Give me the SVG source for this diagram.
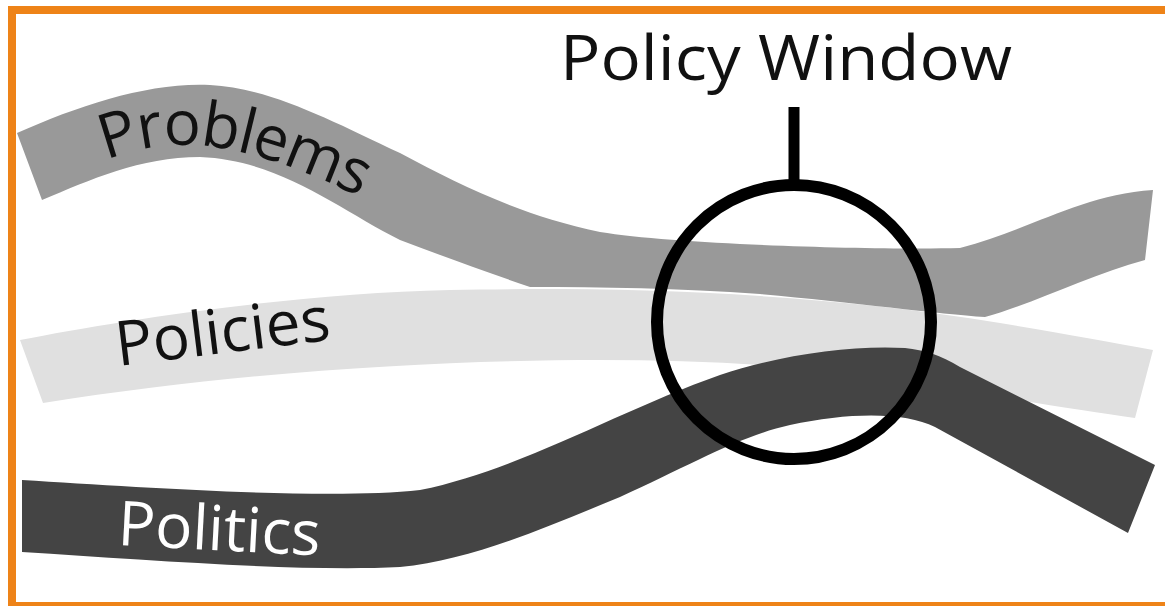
<svg xmlns="http://www.w3.org/2000/svg" width="1165" height="606" viewBox="0 0 1165 606">
  <style>
    .lbl { font-family: "Open Sans", "Liberation Sans", sans-serif; font-size: 62px; }
    .dark { fill: #111111; }
    .light { fill: #ffffff; }
    .ring { fill: none; stroke: #000000; stroke-width: 12; }
  </style>
  <defs>
    <path id="probBase" d="M 106 160 C 166 138, 226 130, 376 205"/>
  </defs>
  <rect x="0" y="0" width="1165" height="606" fill="#ffffff"/>
  <rect x="12" y="10" width="1170" height="596" fill="none" stroke="#ee8318" stroke-width="8"/>

  <g id="policies">
    <path fill="#e0e0e0" d="M 20 340 C 120 320, 300 293, 450 290 C 600 287, 800 290, 1000 323 C 1060 333, 1110 342, 1153 350 L 1135 418 C 1080 410, 1000 398, 900 380 C 800 365, 700 360, 600 360 C 450 360, 250 370, 43 403 Z"/>
    <text class="lbl dark" x="118" y="366" transform="rotate(-7 118 366)">Policies</text>
  </g>

  <g id="problems">
    <path fill="#999999" d="M 17 133 C 80 105, 150 82, 210 85 C 270 88, 330 120, 400 153 C 460 185, 520 215, 600 232 C 680 245, 880 250, 960 248 C 1030 230, 1080 195, 1153 190 L 1145 260 C 1090 275, 1030 305, 985 317 C 940 314, 850 302, 760 294 C 680 288, 600 287, 530 287 C 480 270, 440 255, 400 240 C 340 210, 280 160, 200 157 C 140 157, 90 180, 42 200 Z"/>
    <text class="lbl dark" font-size="60" letter-spacing="-1.5"><textPath href="#probBase">Problems</textPath></text>
  </g>

  <g id="politics">
    <path fill="#444444" d="M 22 480 C 150 488, 330 500, 420 490 C 520 470, 620 410, 720 375 C 780 355, 850 345, 905 348 C 925 350, 940 355, 960 367 L 1155 465 L 1128 533 L 935 427 C 905 412, 850 412, 790 425 C 740 436, 690 465, 620 497 C 540 530, 470 560, 400 567 C 300 572, 150 560, 22 552 Z"/>
    <text class="lbl light" x="117" y="545" transform="rotate(3 117 545)">Politics</text>
  </g>

  <g id="policy-window">
    <circle class="ring" cx="794" cy="322" r="137"/>
    <text class="lbl dark" x="560" y="80" font-size="68" textLength="452" lengthAdjust="spacingAndGlyphs">Policy Window</text>
  </g>

  <g id="connectors">
    <line x1="794" y1="107" x2="794" y2="186" stroke="#000000" stroke-width="11"/>
  </g>
</svg>
